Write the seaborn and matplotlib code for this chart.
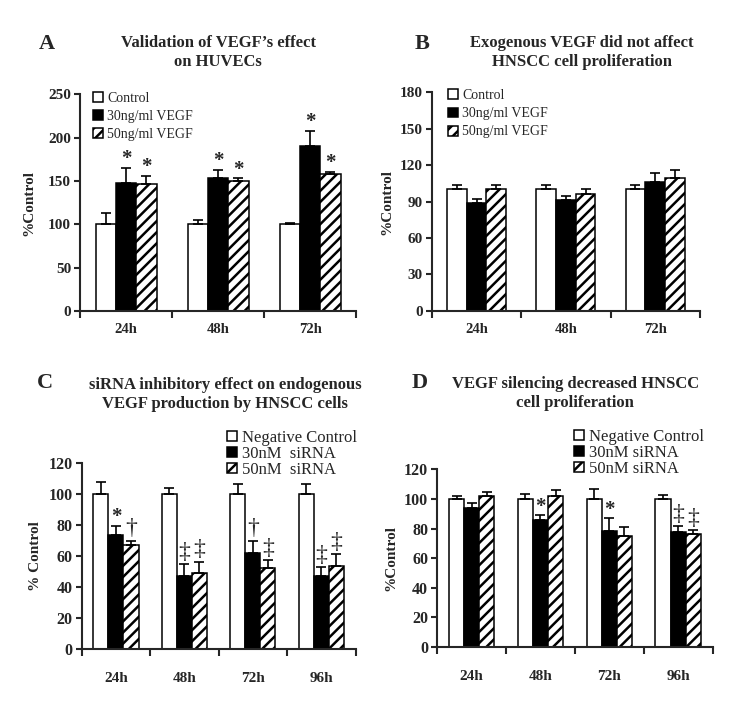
import numpy as np
import pandas as pd
import matplotlib
matplotlib.use("Agg")
import matplotlib.pyplot as plt
import seaborn as sns

# ============================================================
# Data
# ============================================================

a_times = ["24h", "48h", "72h"]
a_groups = ["Control", "30ng/ml VEGF", "50ng/ml VEGF"]
a_mean = [[100, 100, 100], [148, 153, 190], [146, 150, 158]]
a_sd = [[13, 5, 1.5], [17, 10, 18], [10, 3, 2.5]]
a_marks = [["", "", ""], ["*", "*", "*"], ["*", "*", "*"]]

b_times = ["24h", "48h", "72h"]
b_groups = ["Control", "30ng/ml VEGF", "50ng/ml VEGF"]
b_mean = [[100, 100, 100], [89, 91, 106.5], [100, 96, 109.5]]
b_sd = [[3.5, 4, 4], [3.5, 4, 7], [4, 4, 6.5]]
b_marks = [["", "", ""], ["", "", ""], ["", "", ""]]

c_times = ["24h", "48h", "72h", "96h"]
c_groups = ["Negative Control", "30nM  siRNA", "50nM  siRNA"]
c_mean = [[100, 100, 100, 100], [73.5, 47, 62, 47], [67, 49, 52.5, 54]]
c_sd = [[8, 4, 6.5, 6.5], [6, 8, 8, 6], [3, 7.5, 5, 7.5]]
c_marks = [["", "", "", ""], ["*", "\u2021", "\u2020", "\u2021"], ["\u2020", "\u2021", "\u2021", "\u2021"]]

d_times = ["24h", "48h", "72h", "96h"]
d_groups = ["Negative Control", "30nM siRNA", "50nM siRNA"]
d_mean = [[100, 100, 100, 100], [94, 86, 78.5, 77.5], [102, 102, 75, 76.5]]
d_sd = [[2, 3.5, 7, 2.5], [3, 3, 8.5, 4], [2.5, 4, 6, 2.5]]
d_marks = [["", "", "", ""], ["", "*", "*", "\u2021"], ["", "", "", "\u2021"]]

# ============================================================
# Style
# ============================================================

sns.set_style("ticks")
plt.rcParams["font.family"] = ["Liberation Serif", "DejaVu Serif"]
plt.rcParams["hatch.linewidth"] = 1.8
plt.rcParams["axes.linewidth"] = 1.5


def draw_panel(ax, times, groups, mean, sd, marks, ymax, ystep, ylabel,
               tick_fs, leg_fs, leg_anchor, leg_space, leg_hl, xpad, ylab_x):
    rows = []
    for gi, g in enumerate(groups):
        for ti, t in enumerate(times):
            rows.append({"time": t, "group": g, "value": mean[gi][ti]})
    df = pd.DataFrame(rows)

    sns.barplot(data=df, x="time", y="value", hue="group", order=times, hue_order=groups,
                palette=["white", "black", "white"], edgecolor="black", linewidth=1.1,
                width=0.66, errorbar=None, saturation=1, legend=False, ax=ax)

    bar_sets = list(ax.containers)
    for p in bar_sets[2]:
        p.set_hatch("///")

    for gi, cont in enumerate(bar_sets):
        for ti, bar in enumerate(cont):
            x = bar.get_x() + bar.get_width() / 2
            y = bar.get_height()
            e = sd[gi][ti]
            ax.errorbar(x, y, yerr=[[0], [e]], color="black", lw=1.2,
                        capsize=3.5, capthick=1.2, zorder=1)
            m = marks[gi][ti]
            if m == "*":
                ax.annotate(m, (x, y + e), xytext=(0, -1), textcoords="offset points",
                            ha="center", va="bottom", fontsize=15, fontweight="bold")
            elif m:
                ax.annotate(m, (x, y + e), xytext=(0, 1), textcoords="offset points",
                            ha="center", va="bottom", fontsize=17)

    ax.set_ylim(0, ymax)
    ax.set_yticks(np.arange(0, ymax + 1, ystep))
    ax.set_xlim(-0.5, len(times) - 0.5)
    ax.set_xticks(np.arange(-0.5, len(times), 1), minor=True)
    ax.tick_params(axis="x", which="major", length=0, pad=xpad, labelsize=tick_fs - 0.5)
    ax.tick_params(axis="x", which="minor", length=5, width=1.5, direction="out")
    ax.tick_params(axis="y", length=4.5, width=1.5, direction="out", pad=2, labelsize=tick_fs)
    for lab in ax.get_xticklabels() + ax.get_yticklabels():
        lab.set_fontweight("bold")

    ax.set_xlabel("")
    ax.set_ylabel(ylabel, fontsize=11, fontweight="bold")
    ax.yaxis.set_label_coords(ylab_x, 0.5)
    sns.despine(ax=ax)

    ax.legend(handles=bar_sets, labels=groups, loc="upper left",
              bbox_to_anchor=leg_anchor, frameon=False, fontsize=leg_fs,
              borderpad=0, borderaxespad=0, labelspacing=leg_space,
              handlelength=leg_hl, handleheight=leg_hl, handletextpad=0.3)


fig = plt.figure(figsize=(7.5, 7.06), dpi=100)

ax_a = fig.add_axes([0.107, 0.5595, 0.368, 0.307])
draw_panel(ax_a, a_times, a_groups, a_mean, a_sd, a_marks, 250, 50, "%Control",
           11, 10, (0.047, 1.012), 0.37, 0.72, 9, -0.163)

ax_b = fig.add_axes([0.576, 0.56, 0.357, 0.309])
draw_panel(ax_b, b_times, b_groups, b_mean, b_sd, b_marks, 180, 30, "%Control",
           11, 10, (0.06, 1.015), 0.37, 0.72, 9, -0.146)

ax_c = fig.add_axes([0.109, 0.0803, 0.365, 0.2635])
draw_panel(ax_c, c_times, c_groups, c_mean, c_sd, c_marks, 120, 20, "% Control",
           11.5, 12, (0.53, 1.18), 0.0, 0.6, 16, -0.146)

ax_d = fig.add_axes([0.583, 0.084, 0.367, 0.251])
draw_panel(ax_d, d_times, d_groups, d_mean, d_sd, d_marks, 120, 20, "%Control",
           11.5, 12, (0.498, 1.23), 0.0, 0.6, 17, -0.145)

# ============================================================
# Titles and panel letters
# ============================================================

title_kw = dict(ha="center", va="center", fontsize=12, fontweight="bold", linespacing=1.25)
fig.text(0.291, 0.926, "Validation of VEGF\u2019s effect\non HUVECs", **title_kw)
fig.text(0.776, 0.925, "Exogenous VEGF did not affect\nHNSCC cell proliferation", **title_kw)
fig.text(0.300, 0.441, "siRNA inhibitory effect on endogenous\nVEGF production by HNSCC cells", **title_kw)
fig.text(0.767, 0.442, "VEGF silencing decreased HNSCC\ncell proliferation", **title_kw)

letter_kw = dict(ha="center", va="center", fontsize=16, fontweight="bold")
fig.text(0.063, 0.938, "A", **letter_kw)
fig.text(0.563, 0.938, "B", **letter_kw)
fig.text(0.060, 0.458, "C", **letter_kw)
fig.text(0.560, 0.458, "D", **letter_kw)

fig.savefig("out.png", dpi=100)
